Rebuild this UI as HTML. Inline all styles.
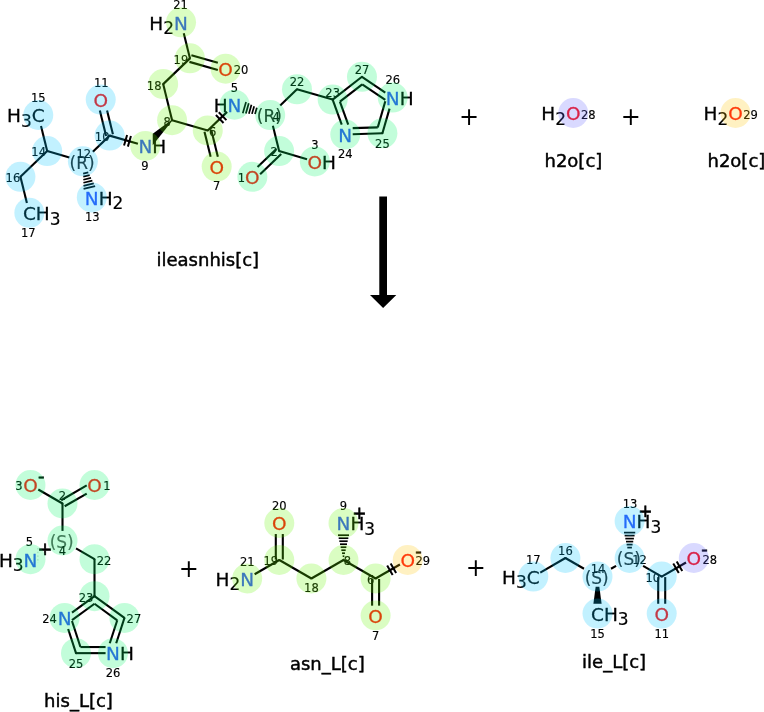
<!DOCTYPE html>
<html><head><meta charset="utf-8"><title>reaction</title>
<style>html,body{margin:0;padding:0;background:#fff}svg{display:block;will-change:transform}</style></head>
<body>
<svg width="764" height="712" viewBox="0 0 764 712">
<rect width="764" height="712" fill="#fff"/>
<g stroke="#000" stroke-linecap="butt" fill="#000">
<line x1="41.01" y1="126.05" x2="47.19" y2="151.06" stroke-width="2.1"/>
<line x1="47.19" y1="151.06" x2="20.43" y2="176.81" stroke-width="2.1"/>
<line x1="20.43" y1="176.81" x2="26.91" y2="203.02" stroke-width="2.1"/>
<line x1="47.19" y1="151.06" x2="69.38" y2="157.46" stroke-width="2.1"/>
<line x1="88.29" y1="172.31" x2="83.18" y2="173.57" stroke-width="1.7"/>
<line x1="89.66" y1="175.06" x2="83.26" y2="176.64" stroke-width="1.7"/>
<line x1="91.02" y1="177.81" x2="83.34" y2="179.71" stroke-width="1.7"/>
<line x1="92.38" y1="180.57" x2="83.41" y2="182.79" stroke-width="1.7"/>
<line x1="93.75" y1="183.32" x2="83.49" y2="185.86" stroke-width="1.7"/>
<line x1="95.11" y1="186.07" x2="83.57" y2="188.93" stroke-width="1.7"/>
<line x1="92.85" y1="151.76" x2="109.64" y2="135.62" stroke-width="2.1"/>
<line x1="106.12" y1="135.97" x2="99.85" y2="110.61" stroke-width="2.1"/>
<line x1="112.92" y1="134.29" x2="107.06" y2="110.61" stroke-width="2.1"/>
<line x1="109.64" y1="135.62" x2="137.90" y2="143.78" stroke-width="2.1"/>
<line x1="127.09" y1="134.93" x2="124.03" y2="145.50" stroke-width="2.0"/>
<line x1="130.93" y1="136.04" x2="127.88" y2="146.61" stroke-width="2.0"/>
<polygon stroke="none" points="172.43,120.53 171.74,119.81 152.74,133.81 152.74,145.21"/>
<line x1="172.09" y1="120.17" x2="163.17" y2="84.12" stroke-width="2.1"/>
<line x1="163.17" y1="84.12" x2="189.93" y2="58.37" stroke-width="2.1"/>
<line x1="189.93" y1="58.37" x2="183.75" y2="33.36" stroke-width="2.1"/>
<line x1="191.39" y1="55.15" x2="217.84" y2="62.79" stroke-width="2.1"/>
<line x1="189.44" y1="61.87" x2="217.84" y2="70.07" stroke-width="2.1"/>
<line x1="172.09" y1="120.17" x2="207.77" y2="130.48" stroke-width="2.1"/>
<line x1="211.28" y1="130.12" x2="217.85" y2="156.69" stroke-width="2.1"/>
<line x1="204.49" y1="131.80" x2="210.64" y2="156.69" stroke-width="2.1"/>
<line x1="207.77" y1="130.48" x2="227.11" y2="111.87" stroke-width="2.1"/>
<line x1="215.89" y1="115.03" x2="223.52" y2="122.95" stroke-width="2.0"/>
<line x1="218.78" y1="112.25" x2="226.40" y2="120.18" stroke-width="2.0"/>
<line x1="255.03" y1="114.06" x2="256.85" y2="107.76" stroke-width="1.7"/>
<line x1="251.97" y1="113.87" x2="254.16" y2="106.29" stroke-width="1.7"/>
<line x1="248.90" y1="113.67" x2="251.46" y2="104.82" stroke-width="1.7"/>
<line x1="245.84" y1="113.47" x2="248.76" y2="103.36" stroke-width="1.7"/>
<line x1="242.77" y1="113.28" x2="246.06" y2="101.89" stroke-width="1.7"/>
<line x1="280.19" y1="105.43" x2="296.98" y2="89.28" stroke-width="2.1"/>
<line x1="272.88" y1="125.83" x2="279.13" y2="151.09" stroke-width="2.1"/>
<line x1="279.13" y1="151.09" x2="307.03" y2="159.14" stroke-width="2.1"/>
<line x1="281.19" y1="153.95" x2="260.14" y2="174.21" stroke-width="2.1"/>
<line x1="276.34" y1="148.91" x2="257.55" y2="166.99" stroke-width="2.1"/>
<line x1="296.98" y1="89.28" x2="332.66" y2="99.59" stroke-width="2.1"/>
<line x1="332.66" y1="99.59" x2="361.97" y2="76.78" stroke-width="2.1"/>
<line x1="339.90" y1="101.68" x2="362.22" y2="84.32" stroke-width="2.1"/>
<line x1="361.97" y1="76.78" x2="385.30" y2="92.58" stroke-width="2.1"/>
<line x1="362.22" y1="84.32" x2="385.30" y2="99.95" stroke-width="2.1"/>
<line x1="389.53" y1="108.65" x2="382.41" y2="133.29" stroke-width="2.1"/>
<line x1="385.30" y1="101.31" x2="377.78" y2="127.34" stroke-width="2.1"/>
<line x1="382.41" y1="133.29" x2="352.71" y2="134.27" stroke-width="2.1"/>
<line x1="377.78" y1="127.34" x2="352.71" y2="128.16" stroke-width="2.1"/>
<line x1="341.73" y1="124.67" x2="332.66" y2="99.59" stroke-width="2.1"/>
<line x1="348.22" y1="124.67" x2="339.90" y2="101.68" stroke-width="2.1"/>
<line x1="62.50" y1="503.50" x2="38.28" y2="489.50" stroke-width="2.1"/>
<line x1="61.18" y1="500.22" x2="86.72" y2="485.45" stroke-width="2.1"/>
<line x1="64.68" y1="506.28" x2="86.72" y2="493.54" stroke-width="2.1"/>
<line x1="62.50" y1="503.50" x2="62.50" y2="530.90" stroke-width="2.1"/>
<line x1="76.00" y1="548.39" x2="94.50" y2="559.20" stroke-width="2.1"/>
<line x1="94.50" y1="559.20" x2="94.50" y2="596.20" stroke-width="2.1"/>
<line x1="94.50" y1="596.20" x2="71.99" y2="612.56" stroke-width="2.1"/>
<line x1="94.50" y1="603.74" x2="71.99" y2="620.10" stroke-width="2.1"/>
<line x1="68.15" y1="628.99" x2="76.00" y2="653.14" stroke-width="2.1"/>
<line x1="71.99" y1="621.04" x2="80.43" y2="647.04" stroke-width="2.1"/>
<line x1="76.00" y1="653.14" x2="105.58" y2="653.14" stroke-width="2.1"/>
<line x1="80.43" y1="647.04" x2="105.58" y2="647.04" stroke-width="2.1"/>
<line x1="116.20" y1="643.29" x2="124.43" y2="617.95" stroke-width="2.1"/>
<line x1="109.78" y1="643.29" x2="117.26" y2="620.28" stroke-width="2.1"/>
<line x1="124.43" y1="617.95" x2="94.50" y2="596.20" stroke-width="2.1"/>
<line x1="117.26" y1="620.28" x2="94.50" y2="603.74" stroke-width="2.1"/>
<line x1="254.62" y1="574.22" x2="279.30" y2="560.00" stroke-width="2.1"/>
<line x1="275.80" y1="559.50" x2="275.80" y2="534.04" stroke-width="2.1"/>
<line x1="282.80" y1="559.50" x2="282.80" y2="534.04" stroke-width="2.1"/>
<line x1="279.30" y1="560.00" x2="311.40" y2="578.50" stroke-width="2.1"/>
<line x1="311.40" y1="578.50" x2="343.50" y2="560.00" stroke-width="2.1"/>
<line x1="343.32" y1="559.20" x2="343.68" y2="559.20" stroke-width="1.7"/>
<line x1="342.66" y1="556.20" x2="344.34" y2="556.20" stroke-width="1.7"/>
<line x1="341.99" y1="553.20" x2="345.01" y2="553.20" stroke-width="1.7"/>
<line x1="341.33" y1="550.20" x2="345.67" y2="550.20" stroke-width="1.7"/>
<line x1="340.66" y1="547.20" x2="346.34" y2="547.20" stroke-width="1.7"/>
<line x1="340.00" y1="544.20" x2="347.00" y2="544.20" stroke-width="1.7"/>
<line x1="339.33" y1="541.20" x2="347.67" y2="541.20" stroke-width="1.7"/>
<line x1="338.67" y1="538.20" x2="348.33" y2="538.20" stroke-width="1.7"/>
<line x1="338.00" y1="535.20" x2="349.00" y2="535.20" stroke-width="1.7"/>
<line x1="343.50" y1="560.00" x2="375.60" y2="578.50" stroke-width="2.1"/>
<line x1="379.10" y1="579.00" x2="379.10" y2="605.66" stroke-width="2.1"/>
<line x1="372.10" y1="579.00" x2="372.10" y2="605.66" stroke-width="2.1"/>
<line x1="375.60" y1="578.50" x2="399.92" y2="564.48" stroke-width="2.1"/>
<line x1="387.17" y1="565.48" x2="392.66" y2="575.01" stroke-width="2.0"/>
<line x1="390.64" y1="563.49" x2="396.13" y2="573.02" stroke-width="2.0"/>
<line x1="540.26" y1="572.57" x2="565.40" y2="558.00" stroke-width="2.1"/>
<line x1="565.40" y1="558.00" x2="584.00" y2="568.78" stroke-width="2.1"/>
<polygon stroke="none" points="595.65,586.80 593.40,603.76 601.60,603.76 599.35,586.80"/>
<line x1="611.00" y1="568.78" x2="616.10" y2="565.82" stroke-width="2.1"/>
<line x1="627.30" y1="547.60" x2="631.90" y2="547.60" stroke-width="1.7"/>
<line x1="626.63" y1="544.60" x2="632.57" y2="544.60" stroke-width="1.7"/>
<line x1="625.97" y1="541.60" x2="633.23" y2="541.60" stroke-width="1.7"/>
<line x1="625.30" y1="538.60" x2="633.90" y2="538.60" stroke-width="1.7"/>
<line x1="624.64" y1="535.60" x2="634.56" y2="535.60" stroke-width="1.7"/>
<line x1="623.97" y1="532.60" x2="635.23" y2="532.60" stroke-width="1.7"/>
<line x1="643.10" y1="565.82" x2="661.70" y2="576.60" stroke-width="2.1"/>
<line x1="665.20" y1="577.10" x2="665.20" y2="603.76" stroke-width="2.1"/>
<line x1="658.20" y1="577.10" x2="658.20" y2="603.76" stroke-width="2.1"/>
<line x1="661.70" y1="576.60" x2="686.02" y2="562.51" stroke-width="2.1"/>
<line x1="673.26" y1="563.54" x2="678.78" y2="573.06" stroke-width="2.0"/>
<line x1="676.72" y1="561.54" x2="682.24" y2="571.06" stroke-width="2.0"/>
<circle cx="47.19" cy="151.06" r="1.05" stroke="none"/>
<circle cx="20.43" cy="176.81" r="1.05" stroke="none"/>
<circle cx="109.64" cy="135.62" r="1.05" stroke="none"/>
<circle cx="172.09" cy="120.17" r="1.05" stroke="none"/>
<circle cx="163.17" cy="84.12" r="1.05" stroke="none"/>
<circle cx="189.93" cy="58.37" r="1.05" stroke="none"/>
<circle cx="207.77" cy="130.48" r="1.05" stroke="none"/>
<circle cx="296.98" cy="89.28" r="1.05" stroke="none"/>
<circle cx="279.13" cy="151.09" r="1.05" stroke="none"/>
<circle cx="332.66" cy="99.59" r="1.05" stroke="none"/>
<circle cx="361.97" cy="76.78" r="1.05" stroke="none"/>
<circle cx="382.41" cy="133.29" r="1.05" stroke="none"/>
<circle cx="62.50" cy="503.50" r="1.05" stroke="none"/>
<circle cx="94.50" cy="559.20" r="1.05" stroke="none"/>
<circle cx="94.50" cy="596.20" r="1.05" stroke="none"/>
<circle cx="76.00" cy="653.14" r="1.05" stroke="none"/>
<circle cx="124.43" cy="617.95" r="1.05" stroke="none"/>
<circle cx="279.30" cy="560.00" r="1.05" stroke="none"/>
<circle cx="311.40" cy="578.50" r="1.05" stroke="none"/>
<circle cx="343.50" cy="560.00" r="1.05" stroke="none"/>
<circle cx="375.60" cy="578.50" r="1.05" stroke="none"/>
<circle cx="565.40" cy="558.00" r="1.05" stroke="none"/>
<circle cx="661.70" cy="576.60" r="1.05" stroke="none"/>
<line x1="37.9" y1="548" x2="37.9" y2="563" stroke="#7a9" stroke-width="0.8" stroke-dasharray="1.5 2.2" opacity="0.6"/>
</g>
<g font-family='"DejaVu Sans", "Liberation Sans", sans-serif' font-size="18.5" fill="#000" stroke="#000" stroke-width="0.3">
<text x="31.82" y="122.35">C</text>
<text x="7.10" y="122.35">H</text>
<text x="21.01" y="126.85" font-size="17" stroke-width="0.15">3</text>
<text x="22.89" y="220.20">C</text>
<text x="35.80" y="220.20">H</text>
<text x="49.72" y="224.70" font-size="17" stroke-width="0.15">3</text>
<text x="84.87" y="204.76" fill="#3050F8" stroke="#3050F8">N</text>
<text x="98.71" y="204.76">H</text>
<text x="112.62" y="209.26" font-size="17" stroke-width="0.15">2</text>
<text x="93.44" y="106.91" fill="#FF0D0D" stroke="#FF0D0D">O</text>
<text x="138.40" y="153.26" fill="#3050F8" stroke="#3050F8">N</text>
<text x="152.24" y="153.26">H</text>
<text x="174.10" y="29.66" fill="#3050F8" stroke="#3050F8">N</text>
<text x="149.37" y="29.66">H</text>
<text x="163.29" y="34.16" font-size="17" stroke-width="0.15">2</text>
<text x="218.34" y="76.02" fill="#FF0D0D" stroke="#FF0D0D">O</text>
<text x="209.40" y="173.87" fill="#FF0D0D" stroke="#FF0D0D">O</text>
<text x="227.61" y="112.07" fill="#3050F8" stroke="#3050F8">N</text>
<text x="213.70" y="112.07">H</text>
<text x="307.53" y="168.73" fill="#FF0D0D" stroke="#FF0D0D">O</text>
<text x="322.09" y="168.73">H</text>
<text x="245.08" y="184.18" fill="#FF0D0D" stroke="#FF0D0D">O</text>
<text x="385.80" y="104.95" fill="#3050F8" stroke="#3050F8">N</text>
<text x="399.64" y="104.95">H</text>
<text x="338.37" y="141.86" fill="#3050F8" stroke="#3050F8">N</text>
<text x="82.08" y="168.76" font-size="17" stroke-width="0.15" fill="#222" stroke="#222" text-anchor="middle">(R)</text>
<text x="269.41" y="122.43" font-size="17" stroke-width="0.15" fill="#222" stroke="#222" text-anchor="middle">(R)</text>
<text x="38.28" y="101.51" font-size="11.5" text-anchor="middle" stroke-width="0.15">15</text>
<text x="38.69" y="155.56" font-size="11.5" text-anchor="middle" stroke-width="0.15">14</text>
<text x="12.93" y="181.81" font-size="11.5" text-anchor="middle" stroke-width="0.15">16</text>
<text x="28.35" y="236.86" font-size="11.5" text-anchor="middle" stroke-width="0.15">17</text>
<text x="83.88" y="157.86" font-size="11.5" text-anchor="middle" stroke-width="0.15">12</text>
<text x="92.29" y="221.42" font-size="11.5" text-anchor="middle" stroke-width="0.15">13</text>
<text x="102.14" y="140.62" font-size="11.5" text-anchor="middle" stroke-width="0.15">10</text>
<text x="101.22" y="86.56" font-size="11.5" text-anchor="middle" stroke-width="0.15">11</text>
<text x="144.82" y="169.92" font-size="11.5" text-anchor="middle" stroke-width="0.15">9</text>
<text x="167.09" y="125.67" font-size="11.5" text-anchor="middle" stroke-width="0.15">8</text>
<text x="154.17" y="90.12" font-size="11.5" text-anchor="middle" stroke-width="0.15">18</text>
<text x="180.93" y="64.37" font-size="11.5" text-anchor="middle" stroke-width="0.15">19</text>
<text x="180.52" y="9.32" font-size="11.5" text-anchor="middle" stroke-width="0.15">21</text>
<text x="241.12" y="73.68" font-size="11.5" text-anchor="middle" stroke-width="0.15">20</text>
<text x="212.77" y="135.98" font-size="11.5" text-anchor="middle" stroke-width="0.15">6</text>
<text x="216.68" y="190.03" font-size="11.5" text-anchor="middle" stroke-width="0.15">7</text>
<text x="234.53" y="91.73" font-size="11.5" text-anchor="middle" stroke-width="0.15">5</text>
<text x="276.21" y="121.03" font-size="11.5" text-anchor="middle" stroke-width="0.15">4</text>
<text x="296.98" y="86.28" font-size="11.5" text-anchor="middle" stroke-width="0.15">22</text>
<text x="274.13" y="156.09" font-size="11.5" text-anchor="middle" stroke-width="0.15">2</text>
<text x="314.81" y="148.89" font-size="11.5" text-anchor="middle" stroke-width="0.15">3</text>
<text x="241.36" y="181.83" font-size="11.5" text-anchor="middle" stroke-width="0.15">1</text>
<text x="332.66" y="97.09" font-size="11.5" text-anchor="middle" stroke-width="0.15">23</text>
<text x="361.97" y="73.78" font-size="11.5" text-anchor="middle" stroke-width="0.15">27</text>
<text x="392.72" y="83.61" font-size="11.5" text-anchor="middle" stroke-width="0.15">26</text>
<text x="382.41" y="147.79" font-size="11.5" text-anchor="middle" stroke-width="0.15">25</text>
<text x="345.29" y="157.51" font-size="11.5" text-anchor="middle" stroke-width="0.15">24</text>
<text x="565.97" y="120.34" fill="#FF0D0D" stroke="#FF0D0D">O</text>
<text x="541.25" y="120.34">H</text>
<text x="555.16" y="124.84" font-size="17" stroke-width="0.15">2</text>
<text x="588.25" y="118.80" font-size="11.5" text-anchor="middle" stroke-width="0.15">28</text>
<text x="728.22" y="120.34" fill="#FF0D0D" stroke="#FF0D0D">O</text>
<text x="703.50" y="120.34">H</text>
<text x="717.41" y="124.84" font-size="17" stroke-width="0.15">2</text>
<text x="750.50" y="118.80" font-size="11.5" text-anchor="middle" stroke-width="0.15">29</text>
<text x="23.22" y="492.34" fill="#FF0D0D" stroke="#FF0D0D">O</text>
<text x="38.00" y="481.50" font-size="18" stroke-width="0.6">-</text>
<text x="87.22" y="492.34" fill="#FF0D0D" stroke="#FF0D0D">O</text>
<text x="23.58" y="566.54" fill="#3050F8" stroke="#3050F8">N</text>
<text x="-1.14" y="566.54">H</text>
<text x="12.77" y="571.04" font-size="17" stroke-width="0.15">3</text>
<text x="45.10" y="555.34" font-size="18" text-anchor="middle" stroke-width="0.6">+</text>
<text x="57.65" y="625.29" fill="#3050F8" stroke="#3050F8">N</text>
<text x="106.08" y="660.48" fill="#3050F8" stroke="#3050F8">N</text>
<text x="119.92" y="660.48">H</text>
<text x="61.70" y="547.90" font-size="17" stroke-width="0.15" fill="#555" stroke="#555" text-anchor="middle">(S)</text>
<text x="19.00" y="490.00" font-size="11.5" text-anchor="middle" stroke-width="0.15">3</text>
<text x="107.00" y="490.00" font-size="11.5" text-anchor="middle" stroke-width="0.15">1</text>
<text x="62.50" y="499.50" font-size="11.5" text-anchor="middle" stroke-width="0.15">2</text>
<text x="62.50" y="555.00" font-size="11.5" text-anchor="middle" stroke-width="0.15">4</text>
<text x="29.50" y="546.20" font-size="11.5" text-anchor="middle" stroke-width="0.15">5</text>
<text x="104.00" y="564.70" font-size="11.5" text-anchor="middle" stroke-width="0.15">22</text>
<text x="86.00" y="602.20" font-size="11.5" text-anchor="middle" stroke-width="0.15">23</text>
<text x="49.57" y="622.95" font-size="11.5" text-anchor="middle" stroke-width="0.15">24</text>
<text x="133.93" y="622.95" font-size="11.5" text-anchor="middle" stroke-width="0.15">27</text>
<text x="76.00" y="668.14" font-size="11.5" text-anchor="middle" stroke-width="0.15">25</text>
<text x="113.00" y="676.64" font-size="11.5" text-anchor="middle" stroke-width="0.15">26</text>
<text x="240.28" y="585.84" fill="#3050F8" stroke="#3050F8">N</text>
<text x="215.56" y="585.84">H</text>
<text x="229.47" y="590.34" font-size="17" stroke-width="0.15">2</text>
<text x="272.02" y="530.34" fill="#FF0D0D" stroke="#FF0D0D">O</text>
<text x="336.58" y="530.34" fill="#3050F8" stroke="#3050F8">N</text>
<text x="350.42" y="530.34">H</text>
<text x="364.33" y="534.84" font-size="17" stroke-width="0.15">3</text>
<text x="359.30" y="519.13" font-size="17" text-anchor="middle" stroke-width="0.6">+</text>
<text x="368.32" y="622.84" fill="#FF0D0D" stroke="#FF0D0D">O</text>
<text x="400.42" y="567.34" fill="#FF0D0D" stroke="#FF0D0D">O</text>
<text x="415.20" y="556.50" font-size="18" stroke-width="0.6">-</text>
<text x="247.20" y="565.80" font-size="11.5" text-anchor="middle" stroke-width="0.15">21</text>
<text x="270.80" y="565.00" font-size="11.5" text-anchor="middle" stroke-width="0.15">19</text>
<text x="279.30" y="509.50" font-size="11.5" text-anchor="middle" stroke-width="0.15">20</text>
<text x="311.40" y="592.00" font-size="11.5" text-anchor="middle" stroke-width="0.15">18</text>
<text x="347.50" y="565.00" font-size="11.5" text-anchor="middle" stroke-width="0.15">8</text>
<text x="343.50" y="509.50" font-size="11.5" text-anchor="middle" stroke-width="0.15">9</text>
<text x="370.60" y="583.50" font-size="11.5" text-anchor="middle" stroke-width="0.15">6</text>
<text x="375.60" y="639.50" font-size="11.5" text-anchor="middle" stroke-width="0.15">7</text>
<text x="422.70" y="565.00" font-size="11.5" text-anchor="middle" stroke-width="0.15">29</text>
<text x="526.84" y="583.94">C</text>
<text x="502.12" y="583.94">H</text>
<text x="516.03" y="588.44" font-size="17" stroke-width="0.15">3</text>
<text x="591.04" y="620.94">C</text>
<text x="603.96" y="620.94">H</text>
<text x="617.87" y="625.44" font-size="17" stroke-width="0.15">3</text>
<text x="622.68" y="528.34" fill="#3050F8" stroke="#3050F8">N</text>
<text x="636.52" y="528.34">H</text>
<text x="650.43" y="532.84" font-size="17" stroke-width="0.15">3</text>
<text x="645.40" y="517.13" font-size="17" text-anchor="middle" stroke-width="0.6">+</text>
<text x="654.42" y="620.94" fill="#FF0D0D" stroke="#FF0D0D">O</text>
<text x="686.52" y="565.34" fill="#FF0D0D" stroke="#FF0D0D">O</text>
<text x="701.30" y="554.50" font-size="18" stroke-width="0.6">-</text>
<text x="596.70" y="584.00" font-size="17" stroke-width="0.15" fill="#222" stroke="#222" text-anchor="middle">(S)</text>
<text x="628.80" y="565.40" font-size="17" stroke-width="0.15" fill="#222" stroke="#222" text-anchor="middle">(S)</text>
<text x="533.30" y="563.60" font-size="11.5" text-anchor="middle" stroke-width="0.15">17</text>
<text x="565.40" y="555.00" font-size="11.5" text-anchor="middle" stroke-width="0.15">16</text>
<text x="598.00" y="573.10" font-size="11.5" text-anchor="middle" stroke-width="0.15">14</text>
<text x="597.50" y="637.60" font-size="11.5" text-anchor="middle" stroke-width="0.15">15</text>
<text x="639.60" y="564.00" font-size="11.5" text-anchor="middle" stroke-width="0.15">12</text>
<text x="630.10" y="508.00" font-size="11.5" text-anchor="middle" stroke-width="0.15">13</text>
<text x="652.70" y="581.60" font-size="11.5" text-anchor="middle" stroke-width="0.15">10</text>
<text x="661.70" y="637.60" font-size="11.5" text-anchor="middle" stroke-width="0.15">11</text>
<text x="709.80" y="564.00" font-size="11.5" text-anchor="middle" stroke-width="0.15">28</text>
</g>
<circle cx="109.64" cy="135.62" r="15.0" fill="rgb(0,197,255)" fill-opacity="0.24"/>
<circle cx="100.72" cy="99.56" r="15.0" fill="rgb(0,197,255)" fill-opacity="0.24"/>
<circle cx="82.88" cy="161.36" r="15.0" fill="rgb(0,197,255)" fill-opacity="0.24"/>
<circle cx="91.79" cy="197.42" r="15.0" fill="rgb(0,197,255)" fill-opacity="0.24"/>
<circle cx="47.19" cy="151.06" r="15.0" fill="rgb(0,197,255)" fill-opacity="0.24"/>
<circle cx="38.28" cy="115.01" r="15.0" fill="rgb(0,197,255)" fill-opacity="0.24"/>
<circle cx="20.43" cy="176.81" r="15.0" fill="rgb(0,197,255)" fill-opacity="0.24"/>
<circle cx="29.35" cy="212.86" r="15.0" fill="rgb(0,197,255)" fill-opacity="0.24"/>
<circle cx="207.77" cy="130.48" r="15.0" fill="rgb(100,245,0)" fill-opacity="0.24"/>
<circle cx="216.68" cy="166.53" r="15.0" fill="rgb(100,245,0)" fill-opacity="0.24"/>
<circle cx="172.09" cy="120.17" r="15.0" fill="rgb(100,245,0)" fill-opacity="0.24"/>
<circle cx="145.32" cy="145.92" r="15.0" fill="rgb(100,245,0)" fill-opacity="0.24"/>
<circle cx="163.17" cy="84.12" r="15.0" fill="rgb(100,245,0)" fill-opacity="0.24"/>
<circle cx="189.93" cy="58.37" r="15.0" fill="rgb(100,245,0)" fill-opacity="0.24"/>
<circle cx="225.62" cy="68.68" r="15.0" fill="rgb(100,245,0)" fill-opacity="0.24"/>
<circle cx="181.02" cy="22.32" r="15.0" fill="rgb(100,245,0)" fill-opacity="0.24"/>
<circle cx="252.36" cy="176.83" r="15.0" fill="rgb(0,245,100)" fill-opacity="0.24"/>
<circle cx="279.13" cy="151.09" r="15.0" fill="rgb(0,245,100)" fill-opacity="0.24"/>
<circle cx="314.81" cy="161.39" r="15.0" fill="rgb(0,245,100)" fill-opacity="0.24"/>
<circle cx="270.21" cy="115.03" r="15.0" fill="rgb(0,245,100)" fill-opacity="0.24"/>
<circle cx="234.53" cy="104.73" r="15.0" fill="rgb(0,245,100)" fill-opacity="0.24"/>
<circle cx="296.98" cy="89.28" r="15.0" fill="rgb(0,245,100)" fill-opacity="0.24"/>
<circle cx="332.66" cy="99.59" r="15.0" fill="rgb(0,245,100)" fill-opacity="0.24"/>
<circle cx="345.29" cy="134.51" r="15.0" fill="rgb(0,245,100)" fill-opacity="0.24"/>
<circle cx="382.41" cy="133.29" r="15.0" fill="rgb(0,245,100)" fill-opacity="0.24"/>
<circle cx="392.72" cy="97.61" r="15.0" fill="rgb(0,245,100)" fill-opacity="0.24"/>
<circle cx="361.97" cy="76.78" r="15.0" fill="rgb(0,245,100)" fill-opacity="0.24"/>
<circle cx="573.25" cy="113.00" r="15.0" fill="rgb(95,95,255)" fill-opacity="0.24"/>
<circle cx="735.50" cy="113.00" r="15.0" fill="rgb(255,195,0)" fill-opacity="0.24"/>
<circle cx="62.50" cy="540.50" r="15.0" fill="rgb(0,245,100)" fill-opacity="0.24"/>
<circle cx="62.50" cy="503.50" r="15.0" fill="rgb(0,245,100)" fill-opacity="0.24"/>
<circle cx="30.50" cy="485.00" r="15.0" fill="rgb(0,245,100)" fill-opacity="0.24"/>
<circle cx="94.50" cy="485.00" r="15.0" fill="rgb(0,245,100)" fill-opacity="0.24"/>
<circle cx="30.50" cy="559.20" r="15.0" fill="rgb(0,245,100)" fill-opacity="0.24"/>
<circle cx="94.50" cy="559.20" r="15.0" fill="rgb(0,245,100)" fill-opacity="0.24"/>
<circle cx="94.50" cy="596.20" r="15.0" fill="rgb(0,245,100)" fill-opacity="0.24"/>
<circle cx="124.43" cy="617.95" r="15.0" fill="rgb(0,245,100)" fill-opacity="0.24"/>
<circle cx="113.00" cy="653.14" r="15.0" fill="rgb(0,245,100)" fill-opacity="0.24"/>
<circle cx="76.00" cy="653.14" r="15.0" fill="rgb(0,245,100)" fill-opacity="0.24"/>
<circle cx="64.57" cy="617.95" r="15.0" fill="rgb(0,245,100)" fill-opacity="0.24"/>
<circle cx="247.20" cy="578.50" r="15.0" fill="rgb(100,245,0)" fill-opacity="0.24"/>
<circle cx="279.30" cy="560.00" r="15.0" fill="rgb(100,245,0)" fill-opacity="0.24"/>
<circle cx="279.30" cy="523.00" r="15.0" fill="rgb(100,245,0)" fill-opacity="0.24"/>
<circle cx="311.40" cy="578.50" r="15.0" fill="rgb(100,245,0)" fill-opacity="0.24"/>
<circle cx="343.50" cy="560.00" r="15.0" fill="rgb(100,245,0)" fill-opacity="0.24"/>
<circle cx="343.50" cy="523.00" r="15.0" fill="rgb(100,245,0)" fill-opacity="0.24"/>
<circle cx="375.60" cy="578.50" r="15.0" fill="rgb(100,245,0)" fill-opacity="0.24"/>
<circle cx="375.60" cy="615.50" r="15.0" fill="rgb(100,245,0)" fill-opacity="0.24"/>
<circle cx="407.70" cy="560.00" r="15.0" fill="rgb(255,195,0)" fill-opacity="0.24"/>
<circle cx="533.30" cy="576.60" r="15.0" fill="rgb(0,197,255)" fill-opacity="0.24"/>
<circle cx="565.40" cy="558.00" r="15.0" fill="rgb(0,197,255)" fill-opacity="0.24"/>
<circle cx="597.50" cy="576.60" r="15.0" fill="rgb(0,197,255)" fill-opacity="0.24"/>
<circle cx="597.50" cy="613.60" r="15.0" fill="rgb(0,197,255)" fill-opacity="0.24"/>
<circle cx="629.60" cy="558.00" r="15.0" fill="rgb(0,197,255)" fill-opacity="0.24"/>
<circle cx="629.60" cy="521.00" r="15.0" fill="rgb(0,197,255)" fill-opacity="0.24"/>
<circle cx="661.70" cy="576.60" r="15.0" fill="rgb(0,197,255)" fill-opacity="0.24"/>
<circle cx="661.70" cy="613.60" r="15.0" fill="rgb(0,197,255)" fill-opacity="0.24"/>
<circle cx="693.80" cy="558.00" r="15.0" fill="rgb(95,95,255)" fill-opacity="0.24"/>
<g font-family='"DejaVu Sans", "Liberation Sans", sans-serif' font-size="18" fill="#000" stroke="#000" stroke-width="0.45" text-anchor="middle">
<text x="207.8" y="266.4">ileasnhis[c]</text>
<text x="573.4" y="167">h2o[c]</text>
<text x="736.4" y="167">h2o[c]</text>
<text x="78.5" y="707">his_L[c]</text>
<text x="327.3" y="669.7">asn_L[c]</text>
<text x="614.1" y="667.5">ile_L[c]</text>
</g>
<g font-family='"DejaVu Sans", "Liberation Sans", sans-serif' font-size="24" fill="#000" text-anchor="middle">
<text x="469" y="125.1">+</text>
<text x="630.75" y="125.1">+</text>
<text x="188.75" y="576.8000000000001">+</text>
<text x="475.75" y="576.4">+</text>
</g>
<path d="M379.3 196.5H387V295H396.3L383.1 308L370 295H379.3Z" fill="#000"/>
</svg>
</body></html>
